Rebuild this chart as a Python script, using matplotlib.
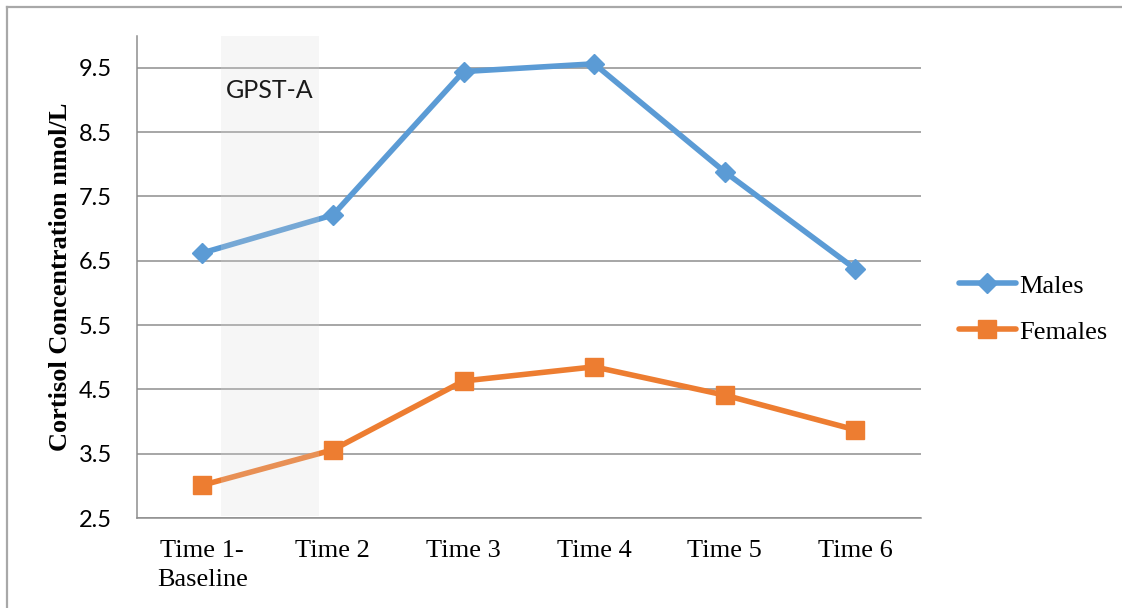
import matplotlib
matplotlib.use("Agg")
import matplotlib.pyplot as plt
from matplotlib.lines import Line2D

# Data
categories = ["Time 1-\nBaseline", "Time 2", "Time 3", "Time 4", "Time 5", "Time 6"]
males = [6.62, 7.21, 9.44, 9.56, 7.88, 6.37]
females = [3.01, 3.56, 4.63, 4.85, 4.41, 3.87]
y_ticks = [2.5, 3.5, 4.5, 5.5, 6.5, 7.5, 8.5, 9.5]
shade_span = (0.146, 0.89)
shade_label = "GPST-A"

BLUE = "#5b9bd5"
ORANGE = "#ed7d31"
GRID = "#8e8e8e"
SERIF = ["Liberation Serif", "DejaVu Serif"]
SANS = ["Lato", "DejaVu Sans"]

fig = plt.figure(figsize=(11.22, 6.08), dpi=100)
ax = fig.add_axes([0.1221, 0.148, 0.8206 - 0.1221, 0.9416 - 0.148])

x = list(range(len(categories)))
ax.plot(x, males, color=BLUE, lw=4.0, marker="D", ms=10, zorder=3,
        solid_capstyle="round", label="Males")
ax.plot(x, females, color=ORANGE, lw=4.0, marker="s", ms=13.5, zorder=3,
        solid_capstyle="round", label="Females")

# Shaded intervention window, laid over the lines so they fade inside it
ax.axvspan(shade_span[0], shade_span[1], ymin=0.005, ymax=1.0,
           color="#d8d8d8", alpha=0.22, lw=0, zorder=4)
ax.text(shade_span[0] + 0.035, 9.14, shade_label, fontsize=18,
        family=SANS, color="#1a1a1a", va="center", ha="left", zorder=5)

ax.set_xlim(-0.5, 5.5)
ax.set_ylim(2.5, 10.0)
ax.set_yticks(y_ticks)
ax.set_yticklabels([f"{v:.1f}" for v in y_ticks], family=SANS, fontsize=17)
ax.set_xticks(x)
ax.set_xticklabels(categories, family=SERIF, fontsize=19, linespacing=1.4)
ax.tick_params(axis="both", length=0)
ax.tick_params(axis="y", pad=18)
ax.tick_params(axis="x", pad=16)

ax.grid(axis="y", color=GRID, lw=1.1, zorder=1)
ax.set_axisbelow(True)
for side in ("top", "right"):
    ax.spines[side].set_visible(False)
for side in ("left", "bottom"):
    ax.spines[side].set_color(GRID)
    ax.spines[side].set_linewidth(1.1)

ax.set_ylabel("Cortisol Concentration nmol/L", family=SERIF, fontsize=19,
              fontweight="bold", labelpad=5)

fig.legend(handles=ax.get_lines(), loc="center left",
           bbox_to_anchor=(0.8547, 0.492), frameon=False,
           prop={"family": SERIF, "size": 19}, borderpad=0, borderaxespad=0,
           handlelength=2.15, handletextpad=0.15, labelspacing=0.85)

# Outer frame (only top and left edges fall inside the canvas)
fig.add_artist(Line2D([7 / 1122, 7 / 1122], [0, 1 - 6.5 / 608],
                      transform=fig.transFigure, color="#a8a8a8", lw=1.6))
fig.add_artist(Line2D([7 / 1122, 1], [1 - 6.5 / 608, 1 - 6.5 / 608],
                      transform=fig.transFigure, color="#a8a8a8", lw=1.6))

fig.savefig("out.png", dpi=100, facecolor="white")
